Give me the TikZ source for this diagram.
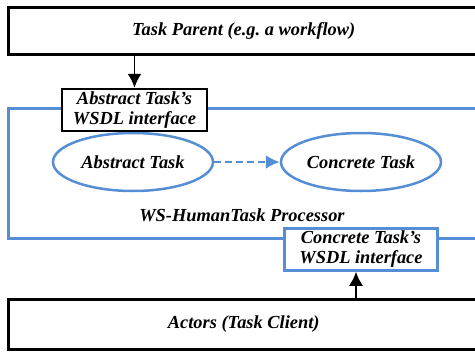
\documentclass[tikz,border=0pt]{standalone}
\usepackage{fontspec}
\setmainfont{Liberation Serif}
\usepackage{tikz}
\usetikzlibrary{shapes,arrows.meta,positioning}
\definecolor{procblue}{RGB}{85, 142, 213}
\tikzstyle{outer} = [rectangle, draw=black, line width=2.5pt, minimum width=471pt, inner sep=0pt, text centered, font=\bfseries\itshape\fontsize{18.4}{21}\selectfont]
\tikzstyle{proc} = [rectangle, draw=procblue, line width=2.5pt, minimum width=471pt, minimum height=130pt, inner sep=0pt]
\tikzstyle{task} = [ellipse, draw=procblue, line width=2.5pt, minimum width=160pt, minimum height=58pt, inner sep=0pt, text centered, font=\bfseries\itshape\fontsize{18.4}{21}\selectfont]
\tikzstyle{iface} = [rectangle, fill=white, line width=2.5pt, minimum height=42pt, inner sep=0pt, align=center, font=\bfseries\itshape\fontsize{18.4}{21}\selectfont]
\tikzstyle{textonly} = [draw=none, fill=none, text centered, font=\bfseries\itshape\fontsize{18.4}{21}\selectfont]
\tikzstyle{tedge}  = [draw, line width=1.8pt, -{Latex[length=14pt,width=14pt]}]
\tikzstyle{bedge}  = [draw=procblue, line width=2.5pt, dash pattern=on 7pt off 4pt, -{Latex[length=14pt,width=14pt]}]

\begin{document}
\begin{tikzpicture}[x=1pt,y=-1pt]
\useasboundingbox (0,0) rectangle (475,354);
\clip (0,0) rectangle (475,354);

% boxes =============================
\node[outer, minimum height=47pt, anchor=north west] (parent) at (7,6) {Task Parent (e.g.\ a workflow)};
\node[proc, anchor=north west] (proc) at (7,107) {};
\node[textonly] (proclabel) at (242,215) {WS-HumanTask Processor};
\node[outer, minimum height=50pt, anchor=north west] (actors) at (7,298) {Actors (Task Client)};

% tasks =============================
\node[task] (abs) at (133,162) {Abstract Task};
\node[task] (con) at (361,162) {Concrete Task};

% interfaces =============================
\node[iface, draw=black, minimum width=145pt] (absif) at (134.5,110) {Abstract Task's\\[-1pt]WSDL interface};
\node[iface, draw=procblue, minimum width=153pt] (conif) at (361,249.5) {Concrete Task's\\[-1pt]WSDL interface};
\coordinate[left=5pt of conif.south] (conin);

% edges =============================
\path[tedge] (parent.south -| absif.north) -- (absif.north);
\path[tedge] (actors.north -| conin) -- (conin);
\path[bedge] (abs) -- (con);

\end{tikzpicture}
\end{document}
